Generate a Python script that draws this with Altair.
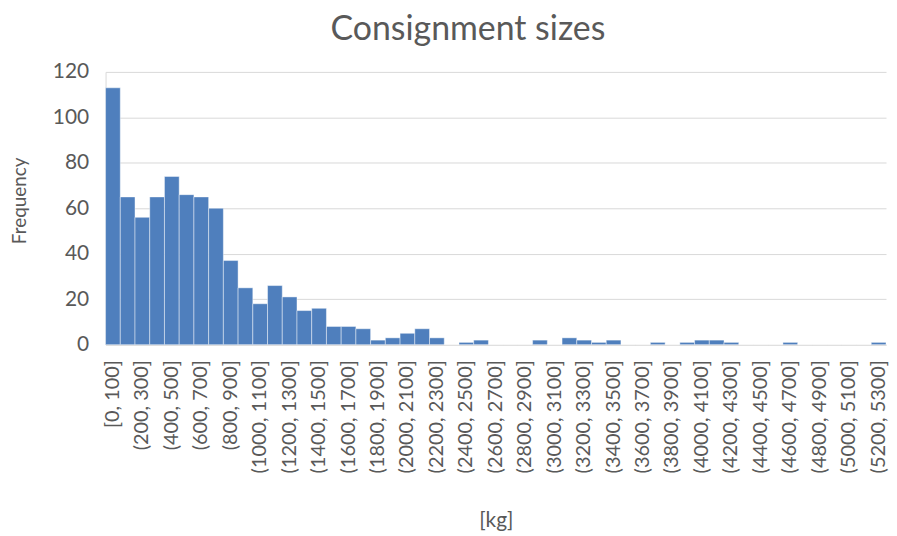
import altair as alt
import pandas as pd

bin_starts = list(range(0, 5300, 100))
counts = [113, 65, 56, 65, 74, 66, 65, 60, 37, 25,
          18, 26, 21, 15, 16, 8, 8, 7, 2, 3,
          5, 7, 3, 0, 1, 2, 0, 0, 0, 2,
          0, 3, 2, 1, 2, 0, 0, 1, 0, 1,
          2, 2, 1, 0, 0, 0, 1, 0, 0, 0,
          0, 0, 1]
labels = [("[0, 100]" if s == 0 else f"({s}, {s + 100}]") for s in bin_starts]
shown_labels = labels[::2]

df = pd.DataFrame({"bin": labels, "count": counts})

FONT = "Lato"
GREY = "#595959"

chart = alt.Chart(df).mark_bar(
    color="#4f7fbd", stroke="#ffffff", strokeWidth=0.8, strokeOpacity=0.55
).encode(
    x=alt.X("bin:N", sort=labels,
            scale=alt.Scale(paddingInner=0, paddingOuter=0),
            axis=alt.Axis(title="[kg]", values=shown_labels, labelAngle=270,
                          labelFontSize=20, labelColor=GREY, labelPadding=15,
                          ticks=False, domain=True, domainColor="#d9d9d9",
                          titleFontSize=21, titleColor=GREY, titleFontWeight="normal",
                          titlePadding=37, labelFont=FONT, titleFont=FONT)),
    y=alt.Y("count:Q", scale=alt.Scale(domain=[0, 120]),
            axis=alt.Axis(title="Frequency", values=[0, 20, 40, 60, 80, 100, 120],
                          labelFontSize=21, labelColor=GREY, labelPadding=17,
                          ticks=False, domain=True, domainColor="#d9d9d9",
                          grid=True, gridColor="#d9d9d9", gridWidth=1,
                          titleFontSize=19, titleColor=GREY, titleFontWeight="normal",
                          titlePadding=23, titleY=129, labelFont=FONT, titleFont=FONT)),
).properties(
    width=784, height=274,
    title=alt.TitleParams("Consignment sizes", fontSize=34, font=FONT, color=GREY,
                          fontWeight="normal", anchor="middle", offset=14, dx=-28),
    padding={"left": 2, "top": 4, "right": 0, "bottom": 0},
).configure_view(stroke=None)

chart.save("out.html", embed_options={"renderer": "svg", "actions": False})
